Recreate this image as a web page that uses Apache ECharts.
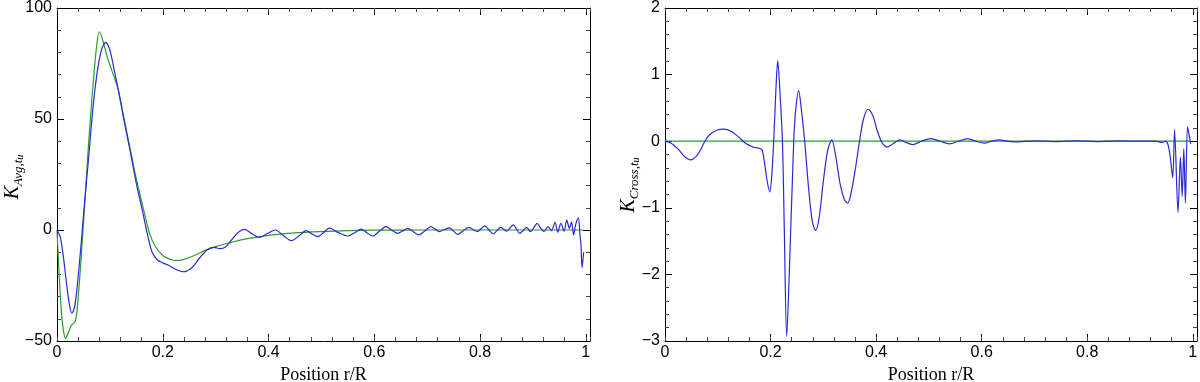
<!DOCTYPE html>
<html>
<head>
<meta charset="utf-8">
<script src="https://cdn.jsdelivr.net/npm/echarts@6/dist/echarts.min.js"></script>
<style>html,body{margin:0;padding:0;background:#fff}#c{width:1200px;height:382px}</style>
</head>
<body>
<div id="c"></div>
<script>
// ---- data ----
const xTicks = [0, 0.2, 0.4, 0.6, 0.8, 1];
const avgYTicks = [-50, 0, 50, 100];
const crossYTicks = [-3, -2, -1, 0, 1, 2];

// Left panel: K_Avg,t_u  (blue = measured, green = model)
const avgBlue = [[0,0],[0.006,-3],[0.012,-12],[0.018,-24],[0.023,-33],[0.028,-37.5],[0.033,-35],[0.038,-26],[0.045,-8],[0.052,12],[0.06,33],[0.068,55],[0.076,71],[0.084,81],[0.092,84.5],[0.1,81],[0.11,70],[0.116,63],[0.127,49],[0.138,36],[0.15,21],[0.163,7],[0.172,-3],[0.18,-10],[0.19,-13.5],[0.2,-14.8],[0.21,-15.8],[0.225,-17.8],[0.24,-18.8],[0.255,-17],[0.27,-12.5],[0.285,-8.8],[0.297,-7.8],[0.308,-8.4],[0.318,-7.8],[0.33,-4.5],[0.342,-1.2],[0.355,0.3],[0.368,-1.6],[0.383,-3.3],[0.398,-1.6],[0.413,0],[0.428,-2.5],[0.443,-4.8],[0.457,-2.8],[0.471,-0.3],[0.482,-1.8],[0.493,-3],[0.504,-1.2],[0.515,0.8],[0.532,-1.2],[0.55,-2.7],[0.563,-1.2],[0.575,0.4],[0.586,-1.2],[0.597,-2.7],[0.61,-0.5],[0.622,1.5],[0.633,0],[0.644,-1.5],[0.654,-0.4],[0.663,0.7],[0.674,-0.8],[0.685,-2.2],[0.696,-0.3],[0.707,1.5],[0.715,0.4],[0.723,-0.7],[0.733,0.2],[0.742,1.0],[0.75,-0.5],[0.758,-2.0],[0.768,-0.4],[0.779,1.2],[0.787,0.2],[0.795,-0.7],[0.802,0.6],[0.809,1.9],[0.817,0],[0.825,-1.8],[0.832,-0.3],[0.839,1.2],[0.845,0.3],[0.85,-0.5],[0.857,1],[0.863,2.3],[0.869,0.4],[0.875,-1.5],[0.882,-0.1],[0.888,1.2],[0.892,0.2],[0.896,-0.7],[0.902,1.2],[0.908,3],[0.914,1.1],[0.921,-0.7],[0.925,0.4],[0.929,1.5],[0.935,-0.3],[0.942,3.5],[0.947,-1],[0.953,3],[0.959,-0.5],[0.964,4.5],[0.969,0.7],[0.973,3.7],[0.977,-2.2],[0.981,2.6],[0.986,5.5],[0.989,-2],[0.991,-7],[0.993,-17],[0.996,-10]];
const avgGreen = [[0,0],[0.004,-20],[0.008,-36],[0.012,-45],[0.016,-48.8],[0.021,-46.5],[0.027,-43],[0.034,-41.4],[0.038,-36],[0.045,-15],[0.052,10],[0.06,40],[0.068,65],[0.075,83],[0.08,89.3],[0.086,86],[0.095,78],[0.105,71],[0.116,63],[0.127,50],[0.138,37],[0.15,23],[0.16,13],[0.168,5],[0.175,-1.5],[0.185,-7],[0.2,-11.5],[0.215,-13.3],[0.226,-13.8],[0.24,-13.2],[0.26,-11.5],[0.28,-9.2],[0.3,-7.5],[0.33,-5.5],[0.36,-3.9],[0.4,-2.4],[0.45,-1.3],[0.5,-0.7],[0.55,-0.3],[0.6,-0.1],[0.7,0],[0.996,0]];

// Right panel: K_Cross,t_u
const crossBlue = [[0,0],[0.012,-0.03],[0.025,-0.12],[0.037,-0.23],[0.0486,-0.28],[0.06,-0.22],[0.068,-0.12],[0.0756,0],[0.085,0.1],[0.097,0.16],[0.111,0.18],[0.125,0.15],[0.14,0.06],[0.154,-0.04],[0.168,-0.09],[0.183,-0.12],[0.186,-0.2],[0.19,-0.4],[0.194,-0.62],[0.1985,-0.76],[0.202,-0.55],[0.206,0],[0.21,0.75],[0.2136,1.21],[0.217,0.85],[0.2225,0],[0.226,-1.3],[0.2306,-2.93],[0.235,-2.1],[0.2439,0],[0.248,0.5],[0.2533,0.76],[0.258,0.5],[0.2647,0],[0.272,-0.7],[0.279,-1.2],[0.2854,-1.34],[0.292,-1.15],[0.3,-0.6],[0.308,-0.15],[0.316,0.02],[0.323,-0.2],[0.332,-0.65],[0.34,-0.88],[0.346,-0.93],[0.352,-0.8],[0.36,-0.45],[0.3686,0],[0.376,0.33],[0.385,0.48],[0.394,0.38],[0.402,0.16],[0.4096,0],[0.415,-0.06],[0.421,-0.09],[0.43,-0.05],[0.4455,0.02],[0.457,-0.02],[0.469,-0.05],[0.486,0],[0.504,0.04],[0.521,0],[0.539,-0.04],[0.556,0],[0.573,0.04],[0.589,0],[0.605,-0.03],[0.619,0],[0.633,0.02],[0.648,0],[0.662,-0.01],[0.7,0.005],[0.74,-0.005],[0.78,0.005],[0.82,-0.005],[0.86,0.005],[0.9,0],[0.93,0],[0.942,-0.02],[0.948,0],[0.953,-0.05],[0.9575,-0.25],[0.962,-0.55],[0.9655,0.17],[0.972,-1.07],[0.9766,-0.24],[0.98,-0.83],[0.983,-0.11],[0.986,-0.93],[0.99,0.22],[0.993,0.1],[0.996,-0.04]];
const crossGreen = [[0,0],[0.996,0]];

// ---- styling / layout ----
const BLUE = '#2a2ad2', GREEN = '#2f9a2f';
const SANS = 'Liberation Sans, Arial, sans-serif';
const SERIF = 'Liberation Serif, Times New Roman, serif';
const XMAX = 1.008;

function minusFmt(v){ return v < 0 ? '\u2212' + (-v) : String(v); }
function xFmt(v){ return xTicks.some(t => Math.abs(t - v) < 1e-6) ? String(Math.round(v*10)/10) : ''; }

function xAxes(grid, withName){
  const base = {type:'value', gridIndex:grid, min:0, max:XMAX, splitLine:{show:false}};
  return [
    Object.assign({}, base, {position:'bottom', interval:0.2,
      axisLine:{show:true, onZero:false, lineStyle:{color:'#000', width:1}},
      axisTick:{show:true, inside:true, length:7, lineStyle:{color:'#000'}},
      axisLabel:{show:true, formatter:xFmt, fontFamily:SANS, fontSize:16, color:'#000', margin:4},
      name: withName ? 'Position r/R' : '', nameLocation:'middle', nameGap:23,
      nameTextStyle:{fontFamily:SERIF, fontSize:18, color:'#000'}}),
    Object.assign({}, base, {position:'top', interval:0.2,
      axisLine:{show:true, onZero:false, lineStyle:{color:'#000', width:1}},
      axisTick:{show:true, inside:true, length:7, lineStyle:{color:'#000'}},
      axisLabel:{show:false}}),
    Object.assign({}, base, {position:'bottom', interval:0.04,
      axisLine:{show:false, onZero:false},
      axisTick:{show:true, inside:true, length:4, lineStyle:{color:'#444'}},
      axisLabel:{show:false}}),
    Object.assign({}, base, {position:'top', interval:0.04,
      axisLine:{show:false, onZero:false},
      axisTick:{show:true, inside:true, length:4, lineStyle:{color:'#444'}},
      axisLabel:{show:false}})
  ];
}
function yAxes(grid, min, max, interval){
  const base = {type:'value', gridIndex:grid, min:min, max:max, interval:interval, splitLine:{show:false},
    axisLine:{show:true, onZero:false, lineStyle:{color:'#000', width:1}},
    axisTick:{show:true, inside:true, length:7, lineStyle:{color:'#000'}},
    minorTick:{show:true, splitNumber:5, length:4, lineStyle:{color:'#444'}}};
  return [
    Object.assign({}, base, {position:'left',
      axisLabel:{show:true, formatter:minusFmt, fontFamily:SANS, fontSize:16, color:'#000', margin:5}}),
    Object.assign({}, base, {position:'right', axisLabel:{show:false}})
  ];
}

function kTitle(x, y, sub){
  return {type:'text', x:x, y:y, rotation:Math.PI/2, silent:true,
    style:{text:'{k|K}{s|' + sub + ',t}{u|u}', align:'center', verticalAlign:'middle', fill:'#000',
      rich:{
        k:{fontFamily:SERIF, fontStyle:'italic', fontSize:20, lineHeight:25, verticalAlign:'middle'},
        s:{fontFamily:SERIF, fontStyle:'italic', fontSize:13, lineHeight:13, verticalAlign:'bottom'},
        u:{fontFamily:SERIF, fontStyle:'italic', fontSize:10, lineHeight:7, verticalAlign:'bottom'}
      }}};
}

const chart = echarts.init(document.getElementById('c'), null, {renderer:'canvas'});
chart.setOption({
  animation:false,
  backgroundColor:'#fff',
  grid:[
    {left:57, top:8, width:533, height:333, containLabel:false, outerBoundsMode:'none'},
    {left:665, top:8, width:532, height:333, containLabel:false, outerBoundsMode:'none'}
  ],
  xAxis: xAxes(0, true).concat(xAxes(1, true)),
  yAxis: yAxes(0, -50, 100, 50).concat(yAxes(1, -3, 2, 1)),
  series:[
    {type:'line', xAxisIndex:0, yAxisIndex:0, data:avgGreen, showSymbol:false, smooth:0.3,
      lineStyle:{color:GREEN, width:1.2}, z:2},
    {type:'line', xAxisIndex:0, yAxisIndex:0, data:avgBlue, showSymbol:false, smooth:0.3,
      lineStyle:{color:BLUE, width:1.2}, z:3},
    {type:'line', xAxisIndex:4, yAxisIndex:2, data:crossGreen, showSymbol:false,
      lineStyle:{color:GREEN, width:1.2}, z:2},
    {type:'line', xAxisIndex:4, yAxisIndex:2, data:crossBlue, showSymbol:false, smooth:0.3,
      lineStyle:{color:BLUE, width:1.2}, z:3}
  ],
  graphic:[ kTitle(13, 177, 'Avg'), kTitle(629, 185, 'Cross') ]
});
</script>
</body>
</html>
